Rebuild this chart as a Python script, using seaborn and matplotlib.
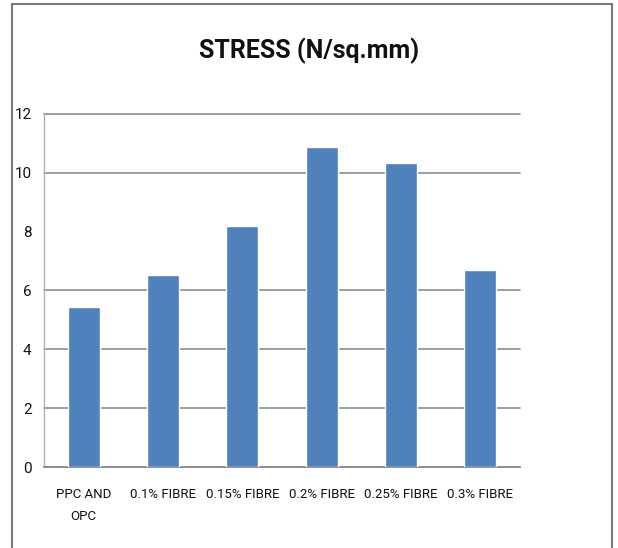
import matplotlib
matplotlib.use("Agg")
import matplotlib.pyplot as plt
import seaborn as sns
import pandas as pd
from matplotlib.patches import Rectangle

categories = ["PPC AND\nOPC", "0.1% FIBRE", "0.15% FIBRE", "0.2% FIBRE", "0.25% FIBRE", "0.3% FIBRE"]
stress = [5.44, 6.53, 8.2, 10.88, 10.34, 6.7]
y_ticks = [0, 2, 4, 6, 8, 10, 12]

df = pd.DataFrame({"mix": categories, "stress": stress})

sns.set_style("white")
plt.rcParams["font.family"] = ["Roboto", "DejaVu Sans"]

fig = plt.figure(figsize=(6.18, 5.48), dpi=100)
ax = fig.add_axes([0.0712, 0.1478, 0.7702, 0.6442])

sns.barplot(x="mix", y="stress", data=df, color="#4F81BD", width=0.4,
            saturation=1, ax=ax, zorder=3)

ax.set_ylim(0, 12)
ax.set_xlim(-0.5, 5.5)
ax.set_yticks(y_ticks)
ax.set_yticklabels([str(t) for t in y_ticks], fontsize=11, color="#111111")
ax.tick_params(axis="x", labelsize=9.5, pad=15, length=0)
ax.tick_params(axis="y", pad=9, length=0)
for lbl in ax.get_xticklabels():
    lbl.set_color("#111111")
    lbl.set_linespacing(1.9)
ax.set_xlabel("")
ax.set_ylabel("")

ax.grid(axis="y", color="#8c8c8c", linewidth=1.2, zorder=0)
# gridline at 8 is missing in the original
for val, gl in zip(ax.get_yticks(), ax.yaxis.get_gridlines()):
    gl.set_clip_on(False)
    if val == 8:
        gl.set_visible(False)

for side in ["top", "right"]:
    ax.spines[side].set_visible(False)
ax.spines["left"].set_color("#b0b0b0")
ax.spines["left"].set_linewidth(1.0)
ax.spines["bottom"].set_color("#8c8c8c")
ax.spines["bottom"].set_linewidth(1.2)

fig.text(0.5, 0.908, "STRESS (N/sq.mm)", ha="center", va="center",
         fontsize=18, fontweight="bold", color="#111111")

# outer frame of the pasted chart
fig.patches.append(Rectangle((12 / 618, -0.01), 600 / 618, 1 - 4 / 548 + 0.01,
                             transform=fig.transFigure, fill=False,
                             edgecolor="#7a7a7a", linewidth=1.5))

fig.savefig("out.png", dpi=100)
